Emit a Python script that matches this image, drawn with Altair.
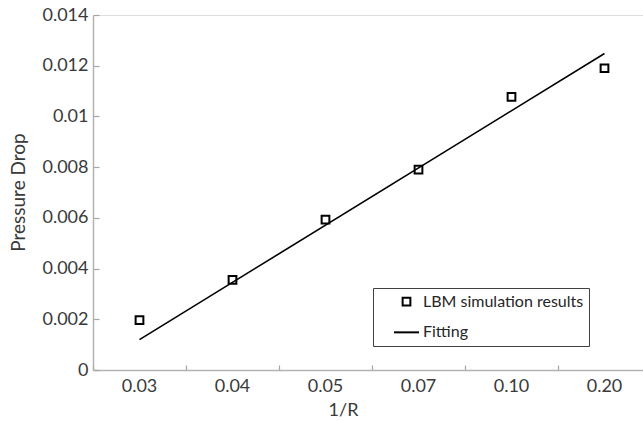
import altair as alt
import pandas as pd

# ---- data ----
categories = ["0.03", "0.04", "0.05", "0.07", "0.10", "0.20"]
lbm_values = [0.00197, 0.00355, 0.00593, 0.0079, 0.01077, 0.0119]
fit_categories = ["0.03", "0.20"]
fit_values = [0.0012, 0.01248]
y_ticks = [0, 0.002, 0.004, 0.006, 0.008, 0.01, 0.012, 0.014]
series_names = ["LBM simulation results", "Fitting"]

points = pd.DataFrame({"r": categories, "dp": lbm_values, "series": series_names[0]})
fit = pd.DataFrame({"r": fit_categories, "dp": fit_values, "series": series_names[1]})

FONT = "Lato"
TXT = "#3a3a3a"
AX = "#b3b3b3"

x_scale = alt.Scale(type="band", domain=categories, range=[0, 558], paddingInner=0, paddingOuter=0)
y_scale = alt.Scale(domain=[0, 0.014], nice=False, zero=True)

main_x_axis = alt.Axis(
    title="1/R", orient="bottom", ticks=False, tickSize=0, labelPadding=7,
    labelFont=FONT, labelFontSize=18, labelColor=TXT, labelAngle=0,
    domainColor=AX, domainWidth=1.5, grid=False,
    titleFont=FONT, titleFontSize=18, titleFontWeight="normal", titleColor=TXT,
    titleX=250, titleY=40, titleBaseline="middle",
)
main_y_axis = alt.Axis(
    title="Pressure Drop", orient="left", ticks=False, tickSize=0, labelPadding=5,
    values=y_ticks, format="~f",
    labelFont=FONT, labelFontSize=18, labelColor=TXT,
    domainColor=AX, domainWidth=1.5, grid=False,
    titleFont=FONT, titleFontSize=19, titleFontWeight="normal", titleColor=TXT,
    titleX=-75, titleY=177, titleBaseline="middle",
)
tick_x_axis = alt.Axis(
    orient="bottom", labels=False, domain=False, ticks=True, tickSize=5,
    tickColor="#a6a6a6", tickWidth=1.2, tickBand="extent", offset=-5, title=None, grid=False,
)
tick_y_axis = alt.Axis(
    orient="left", labels=False, domain=False, ticks=True, tickSize=6,
    tickColor="#a6a6a6", tickWidth=1.2, offset=-6, title=None, values=y_ticks, grid=False,
)

legend = alt.Legend(
    title=None, orient="none", legendX=280, legendY=273, direction="vertical",
    strokeColor="#404040", fillColor="white", padding=5.6, symbolOffset=14.4, rowPadding=9.25,
    labelFont=FONT, labelFontSize=16, labelColor="#262626", labelOffset=3, labelLimit=400,
    symbolStrokeColor="black", symbolStrokeWidth=2, symbolFillColor="transparent",
    labelExpr="datum.label + '\u00a0\u00a0\u00a0'",
)

pts = alt.Chart(points).mark_point(filled=False, color="black", strokeWidth=2, opacity=1).encode(
    x=alt.X("r:N", scale=x_scale, axis=main_x_axis, sort=categories),
    y=alt.Y("dp:Q", scale=y_scale, axis=main_y_axis),
    shape=alt.Shape("series:N", scale=alt.Scale(domain=series_names, range=["square", "stroke"]), legend=legend),
    size=alt.Size("series:N", scale=alt.Scale(domain=series_names, range=[60, 625]), legend=legend),
)

line = alt.Chart(fit).mark_line(color="black", strokeWidth=1.6).encode(
    x=alt.X("r:N", scale=x_scale, axis=tick_x_axis, sort=categories),
    y=alt.Y("dp:Q", scale=y_scale, axis=tick_y_axis),
)

chart = (
    alt.layer(line, pts)
    .resolve_axis(x="independent", y="independent")
    .properties(
        width=550, height=355,
        autosize=alt.AutoSizeParams(type="none"),
        padding={"left": 93, "top": 15, "right": 0, "bottom": 51},
    )
    .configure_view(stroke="#c4c4c4", strokeWidth=1.5)
    .configure(font=FONT)
)

chart.save("out.html", embed_options={"renderer": "svg", "actions": False})
